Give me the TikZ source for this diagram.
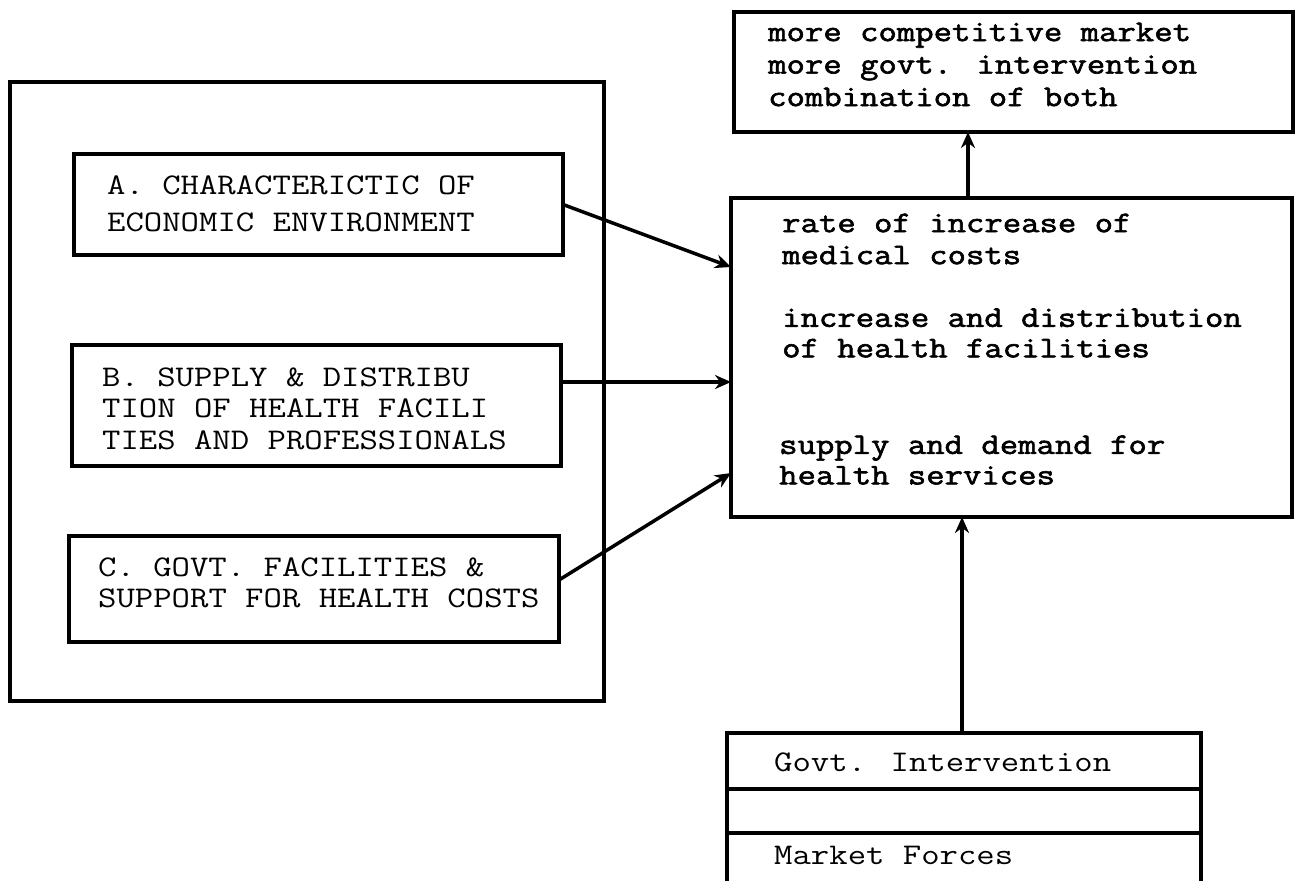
\documentclass[tikz,border=0pt]{standalone}
\usepackage{fontspec}
\newfontfamily\lttfont[FakeStretch=1.19]{Latin Modern Mono}
\newfontfamily\rttfont[FakeStretch=1.19,FakeBold=2]{Latin Modern Mono}
\usetikzlibrary{arrows.meta,calc}
\begin{document}
\begin{tikzpicture}[x=1pt,y=-1pt,
  box/.style={draw, line width=4pt, rectangle, inner sep=0pt, outer sep=0pt},
  arr/.style={line width=3.5pt, -{Stealth[length=16pt,width=14pt]}},
  ln/.style={line width=4pt},
  lt/.style={inner sep=0pt, anchor=west, align=left, font=\fontsize{30}{37}\selectfont\lttfont},
  rt/.style={inner sep=0pt, anchor=west, align=left, font=\fontsize{30}{32}\selectfont\rttfont},
  bt/.style={inner sep=0pt, anchor=west, align=left, font=\fontsize{30}{32}\selectfont\lttfont}]
\useasboundingbox (0,0) rectangle (1296,881);
% left group
\node[box, minimum width=594pt, minimum height=619pt] (O) at (307,391.5) {};
\node[box, minimum width=489pt, minimum height=101pt] (A) at (318.5,204.5) {};
\node[box, minimum width=489pt, minimum height=121pt] (B) at (316.5,405.5) {};
\node[box, minimum width=490pt, minimum height=106pt] (C) at (314,589) {};
\node[lt] (tA) at (107,203.5) {A. CHARACTERICTIC OF\\ECONOMIC ENVIRONMENT};
\node[lt, font=\fontsize{30}{31.5}\selectfont\lttfont] (tB) at (102,408.5) {B. SUPPLY \& DISTRIBU\\TION OF HEALTH FACILI\\TIES AND PROFESSIONALS};
\node[lt, font=\fontsize{30}{31}\selectfont\lttfont] (tC) at (98,582.5) {C. GOVT. FACILITIES \&\\SUPPORT FOR HEALTH COSTS};
% right group
\node[box, minimum width=559pt, minimum height=120pt] (T) at (1013.5,72) {};
\node[rt, font=\fontsize{30}{32.5}\selectfont\rttfont] (tT) at (768,64.5) {more competitive market\\more govt. intervention\\combination of both};
\node[box, minimum width=561pt, minimum height=319pt] (M) at (1011.5,357.5) {};
\node[rt] (m1) at (782,239) {rate of increase of\\medical costs};
\node[rt, font=\fontsize{30}{30.5}\selectfont\rttfont] (m2) at (782,333) {increase and distribution\\of health facilities};
\node[rt, font=\fontsize{30}{30.5}\selectfont\rttfont] (m3) at (779,460) {supply and demand for\\health services};
% bottom open panel
\coordinate (g0) at (727,881);
\coordinate (gtl) at (727,733);
\coordinate (gtr) at (1201,733);
\coordinate (g3) at (1201,881);
\draw[ln] (g0) -- (gtl) -- (gtr) -- (g3);
\draw[ln] (727,789) -- (1201,789);
\draw[ln] (727,833) -- (1201,833);
\node[bt] (g1) at (774,762) {Govt. Intervention};
\node[bt] (g2) at (774,855) {Market Forces};
% connectors
\draw[arr] (A.east) -- (M.west |- {(0,267)});
\draw[arr] (B.east |- {(0,382)}) -- (M.west |- {(0,382)});
\draw[arr] (C.east |- {(0,580)}) -- (M.west |- {(0,473)});
\coordinate (u) at (968,0);
\draw[arr] (u |- M.north) -- (u |- T.south);
\coordinate (v) at (962,0);
\draw[arr] (v |- gtl) -- (v |- M.south);
\end{tikzpicture}
\end{document}
